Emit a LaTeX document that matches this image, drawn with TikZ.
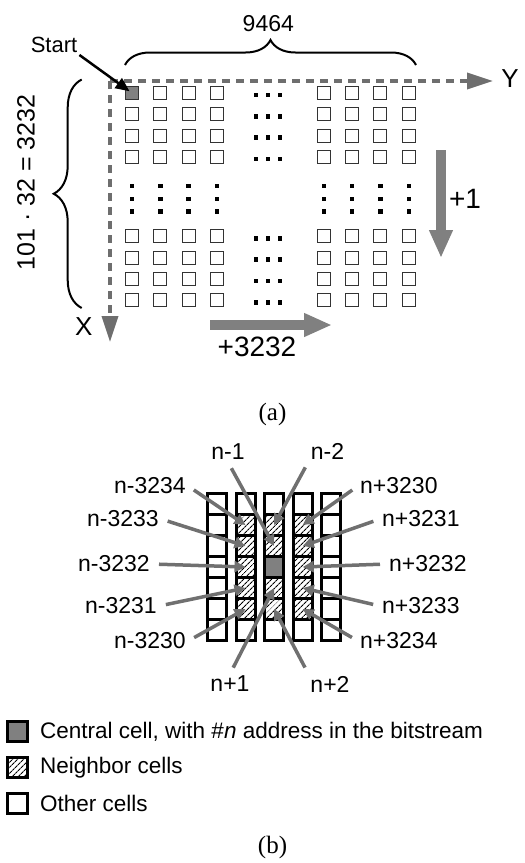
\documentclass[tikz,border=0pt]{standalone}
\usepackage{fontspec}
\setmainfont{Liberation Sans}
\newfontfamily\capfont{Liberation Serif}
\usetikzlibrary{arrows.meta,positioning,patterns.meta,decorations.pathreplacing}

\definecolor{cellgray}{HTML}{808080}
\definecolor{axisgray}{HTML}{6E6E6E}
\definecolor{ptrgray}{HTML}{707070}

\tikzset{
  hatch/.style={pattern={Lines[angle=45,distance=4pt,line width=1.1pt]}},
  smallcell/.style={draw=black!80, line width=1.1pt, minimum size=13pt, inner sep=0pt},
  firstcell/.style={smallcell, fill=cellgray},
  gridcell/.style={draw=black, line width=3pt, minimum width=19pt, minimum height=21pt, inner sep=0pt},
  othercell/.style={gridcell},
  nbcell/.style={gridcell, hatch},
  centralcell/.style={gridcell, fill=cellgray},
  keybox/.style={gridcell, minimum width=20pt, minimum height=20pt},
  axis/.style={draw=axisgray, line width=3.5pt, dash pattern=on 8pt off 6pt, -{Triangle[length=26pt,width=16pt]}},
  curly/.style={decorate, line width=2pt},
  bigarrow/.style={draw=cellgray, line width=10pt, -{Triangle[length=28pt,width=22pt]}},
  startptr/.style={draw=black, line width=2.5pt, -{Triangle[length=14pt,width=12pt]}, shorten >=3pt},
  ptr/.style={draw=ptrgray, line width=3.5pt, -{Triangle[length=11pt,width=11pt]}, shorten <=7pt},
  axislbl/.style={font=\fontsize{26}{30}\selectfont, inner sep=0pt},
  steplbl/.style={font=\fontsize{28}{32}\selectfont, inner sep=0pt},
  countlbl/.style={font=\fontsize{23}{27}\selectfont, inner sep=0pt},
  startlbl/.style={font=\fontsize{22}{26}\selectfont, inner sep=2pt},
  addr/.style={font=\fontsize{23}{27}\selectfont, inner sep=2pt},
  keytext/.style={font=\fontsize{22.5}{27}\selectfont, inner sep=0pt},
  captext/.style={font=\capfont\fontsize{25}{29}\selectfont, inner sep=0pt}
}

\begin{document}
\begin{tikzpicture}[x=1pt, y=-1pt]
  \useasboundingbox (0,0) rectangle (525,863);

  % ---------------- (a) order of the cells in the bitstream ----------------
  % axes
  \coordinate (orig) at (110,81);
  \coordinate (yend) at (493,81);
  \coordinate (xend) at (110,342);
  \draw[axis] (orig) -- (yend);
  \draw[axis] (orig) -- (xend);
  \node[axislbl] (ylbl) at (510,79) {Y};
  \node[axislbl] (xlbl) at (83.7,326.7) {X};

  % four corner blocks of cells
  \foreach \i in {1,...,4}
    \foreach \j in {1,...,4}{
      \ifnum\i\j=11 \def\kind{firstcell}\else \def\kind{smallcell}\fi
      \node[\kind] (tl\i\j) at ({132+28.33*(\i-1)},{93+21.33*(\j-1)}) {};
      \node[smallcell] (tr\i\j) at ({323.7+28.33*(\i-1)},{93+21.33*(\j-1)}) {};
      \node[smallcell] (bl\i\j) at ({132+28.33*(\i-1)},{236.3+21.33*(\j-1)}) {};
      \node[smallcell] (br\i\j) at ({323.7+28.33*(\i-1)},{236.3+21.33*(\j-1)}) {};
    }

  % dots between the blocks
  \foreach \y in {93,114.33,135.67,157,236.3,257.63,278.97,300.3}
    \foreach \x in {256,268,280}
      \fill ({\x-2.2},{\y-0.2}) rectangle ++(4.4,4.4);
  \foreach \x in {132,160.33,188.67,217,323.7,352.03,380.37,408.7}
    \foreach \y in {186,198.7,211.3}
      \fill ({\x-2.2},{\y-2.2}) rectangle ++(4.4,4.4);

  % braces with the sizes
  \draw[curly, decoration={brace, amplitude=25pt}] (125,65) -- (416,65);
  \node[countlbl] (colcount) at (268.3,23.3) {9464};
  \draw[curly, decoration={brace, amplitude=28pt}] (81.7,308) -- (81.7,79.5);
  \node[countlbl, font=\fontsize{25}{29}\selectfont, rotate=90] (rowcount) at (26,182.5) {101 · 32 = 3232};

  % start of the bitstream
  \node[startlbl] (start) at (54,45) {Start};
  \draw[startptr] (start.south east) -- (tl11.center);

  % address steps
  \coordinate (downtop) at (441,150);
  \coordinate (downtip) at (441,258);
  \draw[bigarrow] (downtop) -- (downtip);
  \node[steplbl] (stepone) at (465,198.8) {+1};
  \coordinate (righttail) at (210,325);
  \coordinate (righttip) at (332,325);
  \draw[bigarrow] (righttail) -- (righttip);
  \node[steplbl] (stepcol) at (257,346.7) {+3232};

  \node[captext] (capa) at (272.5,414) {(a)};

  % ---------------- (b) neighbourhood of cell n ----------------
  \foreach \c in {1,...,5}
    \foreach \r in {1,...,7}{
      \def\kind{othercell}
      \ifnum\c>1 \ifnum\c<5 \ifnum\r>1 \ifnum\r<7 \def\kind{nbcell}\fi\fi\fi\fi
      \ifnum\c\r=34 \def\kind{centralcell}\fi
      \node[\kind] (c\c\r) at ({216.9+28.6*(\c-1)},{504+21*(\r-1)}) {};
    }

  % address labels
  \node[addr, anchor=east] (m3234) at (188,486) {n-3234};
  \node[addr, anchor=east] (m3233) at (161,519) {n-3233};
  \node[addr, anchor=east] (m3232) at (152,564) {n-3232};
  \node[addr, anchor=east] (m3231) at (159,606) {n-3231};
  \node[addr, anchor=east] (m3230) at (188,641) {n-3230};
  \node[addr, anchor=west] (p3230) at (358,486) {n+3230};
  \node[addr, anchor=west] (p3231) at (380,519) {n+3231};
  \node[addr, anchor=west] (p3232) at (387,564) {n+3232};
  \node[addr, anchor=west] (p3233) at (380,606) {n+3233};
  \node[addr, anchor=west] (p3234) at (358,641) {n+3234};
  \node[addr] (m1) at (228,452) {n-1};
  \node[addr] (m2) at (327.5,451) {n-2};
  \node[addr] (p1) at (230,684) {n+1};
  \node[addr] (p2) at (330,684) {n+2};

  % pointers to the neighbour cells
  \draw[ptr] (m3234.east) -- (c22.center);
  \draw[ptr] (m3233.east) -- (c23.center);
  \draw[ptr] (m3232.east) -- (c24.center);
  \draw[ptr] (m3231.east) -- (c25.center);
  \draw[ptr] (m3230.east) -- (c26.center);
  \draw[ptr] (p3230.west) -- (c42.center);
  \draw[ptr] (p3231.west) -- (c43.center);
  \draw[ptr] (p3232.west) -- (c44.center);
  \draw[ptr] (p3233.west) -- (c45.center);
  \draw[ptr] (p3234.west) -- (c46.center);
  \draw[ptr] (m1.south) -- (c33.center);
  \draw[ptr] (m2.south west) -- (c32.center);
  \draw[ptr] (p1.north) -- (c35.center);
  \draw[ptr] (p2.north west) -- (c36.center);

  % legend
  \node[keybox, fill=cellgray] (keyc) at (17.5,731.5) {};
  \node[keybox, hatch] (keyn) at (17.5,767.5) {};
  \node[keybox] (keyo) at (17.5,803.5) {};
  \node[keytext, right=11pt of keyc] (keyctext) {Central cell, with \#\textit{n} address in the bitstream};
  \node[keytext, right=11pt of keyn] (keyntext) {Neighbor cells};
  \node[keytext, right=11pt of keyo] (keyotext) {Other cells};

  \node[captext] (capb) at (272.5,847.5) {(b)};
\end{tikzpicture}
\end{document}
